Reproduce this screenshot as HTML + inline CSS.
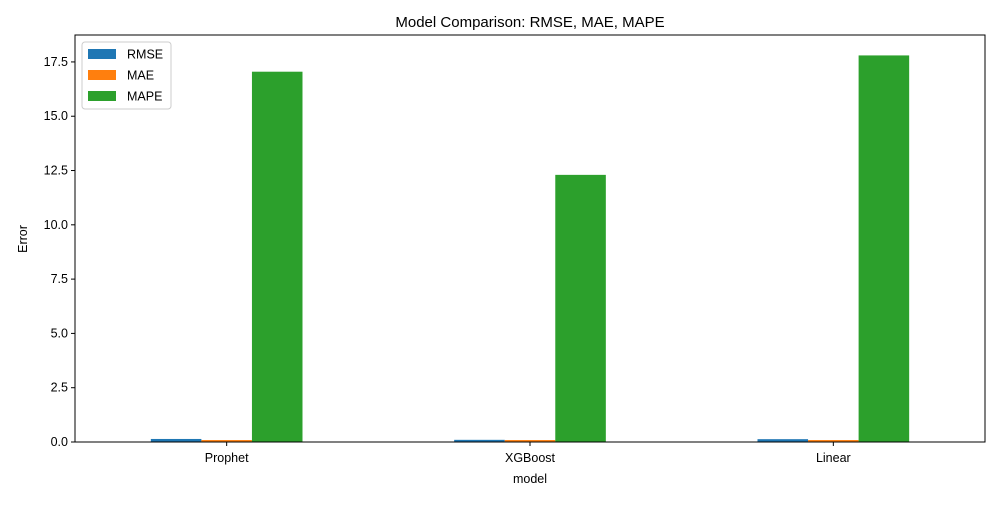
<!DOCTYPE html>
<html><head><meta charset="utf-8"><style>
body{margin:0;background:#fff;font-family:"Liberation Sans","DejaVu Sans",sans-serif;}
svg text{font-family:"Liberation Sans","DejaVu Sans",sans-serif;}
</style></head><body>
<svg id="chart" width="1000" height="500" viewBox="0 0 1000 500"></svg>
<script>
const categories=["Prophet","XGBoost","Linear"];
const seriesNames=["RMSE","MAE","MAPE"];
const rmse=[0.14,0.10,0.13];
const mae=[0.09,0.09,0.09];
const mape=[17.05,12.3,17.8];
const yTicks=[0,2.5,5,7.5,10,12.5,15,17.5];
const colors=["#1f77b4","#ff7f0e","#2ca02c"];
const L=75,R=985,T=35,B=442,yMax=18.74;
const svg=document.getElementById('chart');
const NS='http://www.w3.org/2000/svg';
function mk(t,a,p){const e=document.createElementNS(NS,t);for(const k in a)e.setAttribute(k,a[k]);(p||svg).appendChild(e);return e;}
const xS=v=>L+(v+0.5)*(R-L)/3;
const yS=v=>B-v*(B-T)/yMax;
const series=[rmse,mae,mape];
const w=0.5/3;
series.forEach((vals,s)=>{vals.forEach((v,i)=>{
 const x0=xS(i-0.25+s*w);
 const r=mk('rect',{x:x0,y:yS(v),width:xS(w)-xS(0),height:B-yS(v),fill:colors[s]});
 
 
});});
mk('rect',{x:L,y:T,width:R-L,height:B-T,fill:'none',stroke:'#000','stroke-width':1,});
yTicks.forEach(t=>{const y=yS(t);
 mk('line',{x1:L-4,x2:L,y1:y,y2:y,stroke:'#000'});
 const tx=mk('text',{x:L-7,y:y+4,'text-anchor':'end','font-size':12.5,fill:'#000'});tx.textContent=t.toFixed(1);
 
});
categories.forEach((c,i)=>{const x=xS(i);
 mk('line',{x1:x,x2:x,y1:B,y2:B+4,stroke:'#000'});
 const tx=mk('text',{x:x,y:B+20,'text-anchor':'middle','font-size':12.5});tx.textContent=c;
 
});
let t=mk('text',{x:530,y:483,'text-anchor':'middle','font-size':12.5,});t.textContent='model';
t=mk('text',{x:27,y:239,'text-anchor':'middle','font-size':12.5,transform:'rotate(-90 27 239)',});t.textContent='Error';
t=mk('text',{x:530,y:27,'text-anchor':'middle','font-size':15,});t.textContent='Model Comparison: RMSE, MAE, MAPE';
const lg=mk('g',{});
mk('rect',{x:82,y:42,width:89,height:67,rx:3,fill:'#fff',stroke:'#ccc'},lg);
seriesNames.forEach((n,i)=>{const y=54+i*21;
 const r=mk('rect',{x:88,y:y-5,width:28,height:10,fill:colors[i]},lg);
 const tx=mk('text',{x:127,y:y+4.5,'font-size':12.5},lg);tx.textContent=n;
 
});
</script>
</body></html>
